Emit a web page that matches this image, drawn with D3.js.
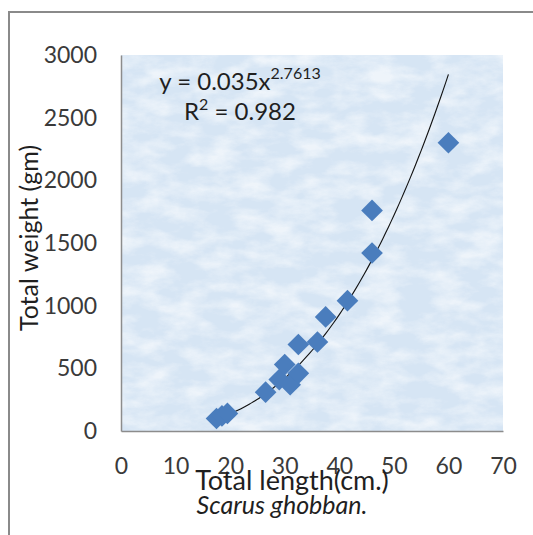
<!DOCTYPE html>
<html>
<head>
<meta charset="utf-8">
<script src="https://cdn.jsdelivr.net/npm/d3@7"></script>
<style>
  html, body { margin: 0; padding: 0; background: #ffffff; }
  svg { display: block; }
  text { font-family: Lato, "Open Sans", sans-serif; }
</style>
</head>
<body>
<svg id="chart" width="533" height="535"></svg>
<script>
// ---- data ----
const lengths = [17.5, 18.5, 19.5, 26.5, 29, 30, 31, 32.5, 32.5, 36, 37.5, 41.5, 46, 46, 60];
const weights = [100, 120, 140, 310, 410, 530, 370, 460, 690, 710, 910, 1040, 1420, 1760, 2300];
const xTicks = [0, 10, 20, 30, 40, 50, 60, 70];
const yTicks = [0, 500, 1000, 1500, 2000, 2500, 3000];
const fitA = 0.035;
const fitB = 2.7613;
const fitR2 = "0.982";
const xTitle = "Total length(cm.)";
const yTitle = "Total weight (gm)";
const caption = "Scarus ghobban.";

const svg = d3.select("#chart");
const plot = { left: 121, right: 503, top: 55, bottom: 431 };

const x = d3.scaleLinear().domain([0, 70]).range([plot.left, plot.right]);
const y = d3.scaleLinear().domain([0, 3000]).range([plot.bottom, plot.top]);

// outer chart border
svg.append("rect").attr("x", 9).attr("y", 12).attr("width", 640).attr("height", 640)
  .attr("fill", "#ffffff").attr("stroke", "#8a8a8a").attr("stroke-width", 2);

// texture filter for the plot background
const defs = svg.append("defs");
const f = defs.append("filter").attr("id", "tex")
  .attr("x", 0).attr("y", 0).attr("width", 1).attr("height", 1);
f.append("feTurbulence").attr("type", "fractalNoise").attr("baseFrequency", "0.03 0.06")
  .attr("numOctaves", 5).attr("seed", 11).attr("result", "noise");
f.append("feColorMatrix").attr("in", "noise").attr("type", "matrix")
  .attr("values", "0 0 0 0 1  0 0 0 0 1  0 0 0 0 1  2.2 0 0 0 -0.8").attr("result", "blot");
f.append("feComposite").attr("in", "blot").attr("in2", "SourceGraphic").attr("operator", "in");

svg.append("rect").attr("x", plot.left).attr("y", plot.top)
  .attr("width", plot.right - plot.left).attr("height", plot.bottom - plot.top)
  .attr("fill", "#d6e5f4");
svg.append("rect").attr("x", plot.left).attr("y", plot.top)
  .attr("width", plot.right - plot.left).attr("height", plot.bottom - plot.top)
  .attr("fill", "#ffffff").attr("filter", "url(#tex)").attr("opacity", 0.6);

// axes
const fmt = d3.format("d");
const yAxis = d3.axisLeft(y).tickValues(yTicks).tickFormat(fmt).tickSize(0).tickPadding(24);
const gy = svg.append("g").attr("transform", `translate(${plot.left},0)`).call(yAxis);
const xAxis = d3.axisBottom(x).tickValues(xTicks).tickFormat(fmt).tickSize(0).tickPadding(27);
const gx = svg.append("g").attr("transform", `translate(0,${plot.bottom})`).call(xAxis);
[gx, gy].forEach(g => {
  g.select(".domain").attr("stroke", "#8c8c8c").attr("stroke-width", 1.5);
  g.selectAll("text").attr("font-family", "Lato").attr("font-size", 23).attr("fill", "#3a3a3a");
});

// trend line
const fitXs = d3.range(d3.min(lengths), d3.max(lengths) + 0.001, 0.5);
const line = d3.line().x(d => x(d)).y(d => y(fitA * Math.pow(d, fitB))).curve(d3.curveMonotoneX);
svg.append("path").datum(fitXs).attr("d", line)
  .attr("fill", "none").attr("stroke", "#111111").attr("stroke-width", 1.1);

// points
const pts = lengths.map((l, i) => ({ l, w: weights[i] }));
const diamond = d3.symbol().type(d3.symbolSquare).size(235);
svg.append("g").selectAll("path").data(pts).join("path")
  .attr("d", diamond)
  .attr("transform", d => `translate(${x(d.l)},${y(d.w)}) rotate(45)`)
  .attr("fill", "#4a7dbd");

// equation
const eq = svg.append("text").attr("x", 240).attr("y", 90).attr("text-anchor", "middle")
  .attr("font-size", 24).attr("fill", "#1f1f1f");
eq.append("tspan").text(`y = ${fitA}x`);
eq.append("tspan").attr("font-size", 16).attr("dy", -11).text(fitB);
const r2 = svg.append("text").attr("x", 240).attr("y", 120).attr("text-anchor", "middle")
  .attr("font-size", 24).attr("fill", "#1f1f1f");
r2.append("tspan").text("R");
r2.append("tspan").attr("font-size", 16).attr("dy", -10).text("2");
r2.append("tspan").attr("dy", 10).text(` = ${fitR2}`);

// axis titles
svg.append("text").attr("x", 292).attr("y", 490).attr("text-anchor", "middle")
  .attr("font-size", 27).attr("fill", "#1f1f1f").text(xTitle);
svg.append("text").attr("x", 282).attr("y", 514).attr("text-anchor", "middle")
  .attr("font-size", 25).attr("font-style", "italic").attr("fill", "#1f1f1f").text(caption);
svg.append("text").attr("transform", "translate(38,238) rotate(-90)").attr("text-anchor", "middle")
  .attr("font-size", 25).attr("fill", "#1f1f1f").text(yTitle);
</script>
</body>
</html>
